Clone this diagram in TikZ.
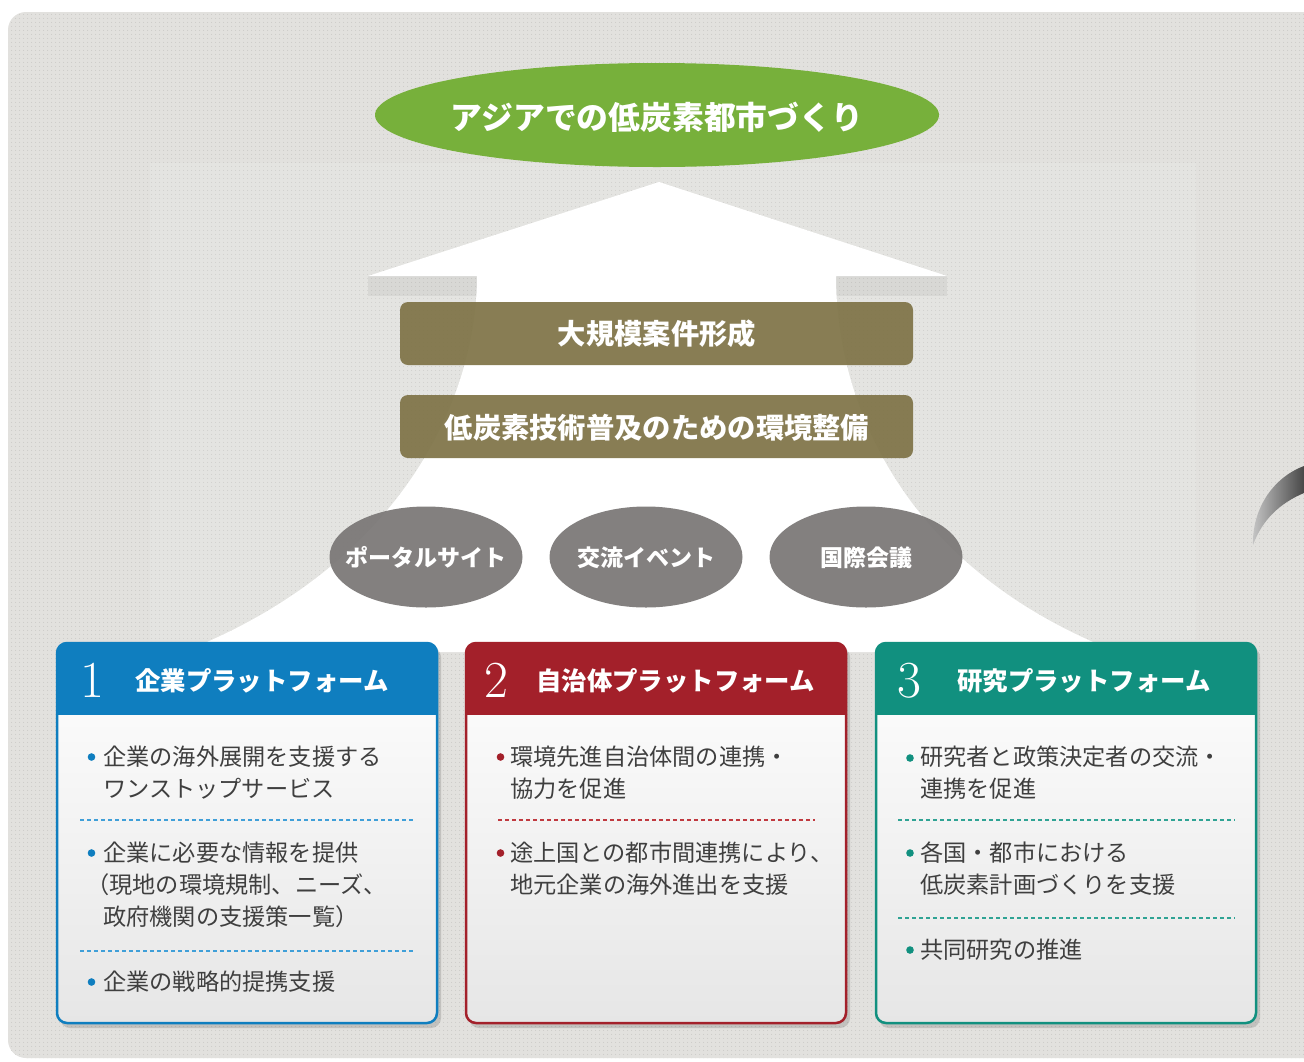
\documentclass[tikz,border=0pt]{standalone}
\usepackage{fontspec}
\newfontfamily\jp{Noto Sans CJK JP}
\usetikzlibrary{shapes.geometric,patterns.meta}
\definecolor{bgc}{HTML}{E2E1DE}
\definecolor{dotc}{HTML}{C8C7C4}
\definecolor{leafg}{HTML}{77B03B}
\definecolor{olivec}{HTML}{7E7346}
\definecolor{pillg}{HTML}{7A7776}
\definecolor{pblue}{HTML}{0F7EBF}
\definecolor{pred}{HTML}{A3202A}
\definecolor{pteal}{HTML}{11907F}
\definecolor{bodyt}{HTML}{3F3F3F}
\definecolor{dblue}{HTML}{3F9FD8}
\definecolor{dred}{HTML}{C0393F}
\definecolor{dteal}{HTML}{2FA394}
\definecolor{panelbot}{HTML}{E6E6E6}
\begin{document}
\begin{tikzpicture}[x=1pt,y=-1pt,
  goalshape/.style={ellipse, fill=leafg, minimum width=564pt, minimum height=104pt, inner sep=0pt},
  goaltext/.style={text=white, inner sep=0pt, font=\jp\bfseries\fontsize{31.8}{31.8}\selectfont},
  olivebox/.style={rectangle, rounded corners=8pt, fill=olivec, fill opacity=0.92, minimum width=513pt, minimum height=63pt, inner sep=0pt},
  olivetext/.style={text=white, inner sep=0pt, font=\jp\bfseries\fontsize{28.3}{28.3}\selectfont},
  pill/.style={ellipse, fill=pillg, fill opacity=0.93, minimum width=193pt, minimum height=101pt, inner sep=0pt},
  pilltext/.style={text=white, inner sep=0pt, font=\jp\bfseries\fontsize{23}{23}\selectfont},
  numtext/.style={text=white, inner sep=0pt, font=\fontsize{52}{52}\selectfont},
  headtext/.style={text=white, inner sep=0pt, font=\jp\bfseries\fontsize{25.4}{25.4}\selectfont},
  bodytext/.style={text=bodyt, inner sep=0pt, anchor=base west, font=\jp\fontsize{23.2}{23.2}\selectfont},
  sepline/.style={line width=1.5pt, dash pattern=on 4pt off 3pt},
  panelframe/.style={line width=2.5pt, rounded corners=10pt},
]
\useasboundingbox (0,0) rectangle (1304,1061);
\clip (0,0) rectangle (1304,1061);
\fill[white] (0,0) rectangle (1304,1061);
% background
\fill[bgc, rounded corners=18pt] (8,12) rectangle (1340,1058);
\fill[pattern={Dots[distance=4pt, radius=0.6pt]}, pattern color=dotc, rounded corners=18pt] (8,12) rectangle (1340,1058);
\fill[white, opacity=0.1] (150,163) rectangle (1196,640);
% goal
\node[goalshape] (goal) at (657,115) {};
\node[goaltext, anchor=base] (goaltxt) at (657,129) {アジアでの低炭素都市づくり};
% arrow
\fill[black, opacity=0.05] (368,276) rectangle (477,296);
\fill[black, opacity=0.05] (836,276) rectangle (947,296);
\fill[white] (659,182) -- (947,276) -- (836,276)
  .. controls (836,400) and (900,560) .. (1100,645) -- (1100,652) -- (200,652) -- (200,645)
  .. controls (400,560) and (477,400) .. (477,276) -- (368,276) -- cycle;
% olive boxes
\node[olivebox] (big) at (656.5,333.5) {};
\node[olivetext, anchor=base] (bigtxt) at (657,344) {大規模案件形成};
\node[olivebox] (env) at (656.5,426.5) {};
\node[olivetext, anchor=base] (envtxt) at (657,438) {低炭素技術普及のための環境整備};
% pills
\node[pill] (portal) at (426,557) {};
\node[pilltext, anchor=base] (portaltxt) at (426,566) {ポータルサイト};
\node[pill] (event) at (646,557) {};
\node[pilltext, anchor=base] (eventtxt) at (646,566) {交流イベント};
\node[pill] (conf) at (866,557) {};
\node[pilltext, anchor=base] (conftxt) at (866,566) {国際会議};
% right-edge crescent
\shade[left color=gray!45, right color=black!72] (1304,466) .. controls (1272,478) and (1252,510) .. (1253,545)
  .. controls (1262,520) and (1280,503) .. (1304,493) -- cycle;
% ---------- panel 1
\fill[black, opacity=0.14, rounded corners=10pt] (60,647) rectangle (441,1028);
\shade[top color=white, middle color=white, bottom color=panelbot, rounded corners=10pt] (57,643) rectangle (437,1023);
\begin{scope}
\clip[rounded corners=10pt] (57,643) rectangle (437,1023);
\fill[pblue] (57,643) rectangle (437,715);
\end{scope}
\draw[pblue, panelframe] (57,643) rectangle (437,1023);
\node[numtext, anchor=base west] (n1) at (80,697) {1};
\node[headtext, anchor=base west] (h1) at (135,690) {企業プラットフォーム};
\fill[pblue] (91.5,757) circle (3.8) node (b11) {};
\node[bodytext] (t11) at (103,765.5) {企業の海外展開を支援する};
\node[bodytext] (t12) at (103,797) {ワンストップサービス};
\draw[dblue, sepline] (80,820) -- (415,820);
\fill[pblue] (91.5,853) circle (3.8) node (b12) {};
\node[bodytext] (t13) at (103,861.5) {企業に必要な情報を提供};
\node[bodytext] (t14) at (86,893.5) {（現地の環境規制、ニーズ、};
\node[bodytext] (t15) at (103,925.5) {政府機関の支援策一覧）};
\draw[dblue, sepline] (80,951) -- (415,951);
\fill[pblue] (91.5,982) circle (3.8) node (b13) {};
\node[bodytext] (t16) at (103,990.5) {企業の戦略的提携支援};
% ---------- panel 2
\fill[black, opacity=0.14, rounded corners=10pt] (469,647) rectangle (850,1028);
\shade[top color=white, middle color=white, bottom color=panelbot, rounded corners=10pt] (466,643) rectangle (846,1023);
\begin{scope}
\clip[rounded corners=10pt] (466,643) rectangle (846,1023);
\fill[pred] (466,643) rectangle (846,715);
\end{scope}
\draw[pred, panelframe] (466,643) rectangle (846,1023);
\node[numtext, anchor=base west] (n2) at (484,697) {2};
\node[headtext, anchor=base west] (h2) at (536,690) {自治体プラットフォーム};
\fill[pred] (500.5,757) circle (3.8) node (b21) {};
\node[bodytext] (t21) at (510,765.5) {環境先進自治体間の連携・};
\node[bodytext] (t22) at (510,797) {協力を促進};
\draw[dred, sepline] (498,820) -- (815,820);
\fill[pred] (500.5,853) circle (3.8) node (b22) {};
\node[bodytext] (t23) at (510,861.5) {途上国との都市間連携により、};
\node[bodytext] (t24) at (510,893.5) {地元企業の海外進出を支援};
% ---------- panel 3
\fill[black, opacity=0.14, rounded corners=10pt] (879,647) rectangle (1260,1028);
\shade[top color=white, middle color=white, bottom color=panelbot, rounded corners=10pt] (876,643) rectangle (1256,1023);
\begin{scope}
\clip[rounded corners=10pt] (876,643) rectangle (1256,1023);
\fill[pteal] (876,643) rectangle (1256,715);
\end{scope}
\draw[pteal, panelframe] (876,643) rectangle (1256,1023);
\node[numtext, anchor=base west] (n3) at (897,697) {3};
\node[headtext, anchor=base west] (h3) at (957,690) {研究プラットフォーム};
\fill[pteal] (910,758) circle (3.8) node (b31) {};
\node[bodytext] (t31) at (920,765.5) {研究者と政策決定者の交流・};
\node[bodytext] (t32) at (920,797) {連携を促進};
\draw[dteal, sepline] (898,820) -- (1235,820);
\fill[pteal] (910,853) circle (3.8) node (b32) {};
\node[bodytext] (t33) at (920,861.5) {各国・都市における};
\node[bodytext] (t34) at (920,893.5) {低炭素計画づくりを支援};
\draw[dteal, sepline] (898,918) -- (1235,918);
\fill[pteal] (910,950) circle (3.8) node (b33) {};
\node[bodytext] (t35) at (920,958.5) {共同研究の推進};
\end{tikzpicture}
\end{document}
